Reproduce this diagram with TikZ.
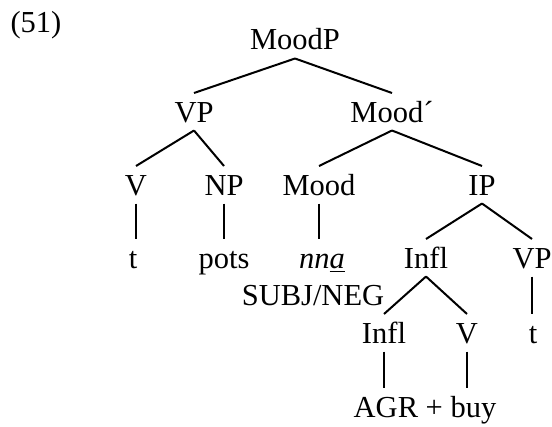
\documentclass[tikz,border=0pt]{standalone}
\usepackage{fontspec}
\setmainfont{Liberation Serif}
\begin{document}
\begin{tikzpicture}
  [x=0.4pt,y=-0.4pt,line width=0.8pt,every node/.style={anchor=base,inner sep=3pt,text height=8.2pt,text depth=0pt,font=\fontsize{12.2}{14}\selectfont}]

  \useasboundingbox (0,0) rectangle (552,426);

  \node (num) at (36,33) {(51)};

  \node (moodp) at (295,50) {MoodP};
  \node (vpa) at (194,122) {VP};
  \node (moodbar) at (392,122) {Mood´};
  \node (va) at (136,195) {V};
  \node (np) at (224,195) {NP};
  \node (mood) at (319,195) {Mood};
  \node (ip) at (482,195) {IP};
  \node (ta) at (133,268) {t};
  \node (pots) at (224,268) {pots};
  \node (nna) at (322,268) {\textit{nn\underline{a}}};
  \node (subjneg) at (313,305) {SUBJ/NEG};
  \node (infla) at (426,268) {Infl};
  \node (vpb) at (532,268) {VP};
  \node (inflb) at (384,343) {Infl};
  \node (vb) at (467,343) {V};
  \node (tb) at (533,343) {t};
  \node (agr) at (425,417) {AGR + buy};

  \draw (moodp.south) -- (vpa.north);
  \draw (moodp.south) -- (moodbar.north);
  \draw (vpa.south) -- (va.north);
  \draw (vpa.south) -- (np.north);
  \draw (moodbar.south) -- (mood.north);
  \draw (moodbar.south) -- (ip.north);
  \draw (ip.south) -- (infla.north);
  \draw (ip.south) -- (vpb.north);
  \draw (infla.south) -- (inflb.north);
  \draw (infla.south) -- (vb.north);
  % unary branches straight down
  \draw (va.south) -- (va.south |- ta.north);
  \draw (np.south) -- (np.south |- pots.north);
  \draw (mood.south) -- (mood.south |- nna.north);
  \draw (vpb.south) -- (vpb.south |- tb.north);
  \draw (inflb.south) -- (inflb.south |- agr.north);
  \draw (vb.south) -- (vb.south |- agr.north);
\end{tikzpicture}
\end{document}
